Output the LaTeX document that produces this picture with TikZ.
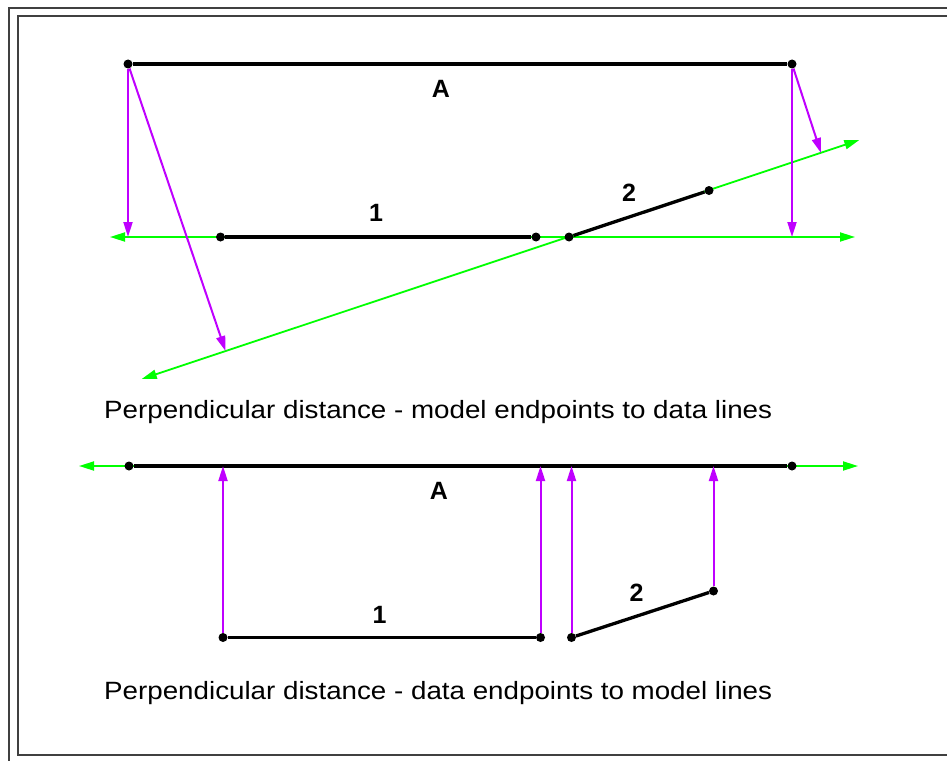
\documentclass[tikz,border=0pt]{standalone}
\usepackage{fontspec}
\setmainfont{Liberation Sans}
\usetikzlibrary{arrows.meta}
\definecolor{mag}{RGB}{191,0,255}
\definecolor{grn}{RGB}{0,255,0}
\definecolor{framegray}{RGB}{64,64,64}
\begin{document}
\begin{tikzpicture}[x=1pt,y=-1pt,
  dot/.style={circle,fill=black,inner sep=0pt,minimum size=9pt},
  seg/.style={line width=3.3pt,black},
  guide/.style={grn,line width=1.8pt,{Triangle[length=15pt,width=9pt]}-{Triangle[length=15pt,width=9pt]}},
  perp/.style={mag,line width=2pt,-{Triangle[length=15pt,width=9pt]}},
  lbl/.style={font=\fontsize{25}{30}\selectfont\bfseries,inner sep=0pt},
  captxt/.style={font=\fontsize{25}{30}\selectfont,anchor=base west,inner sep=0pt},
  framel/.style={framegray,line width=1.6pt}]
\useasboundingbox (0,0) rectangle (947,760);
\clip (0,0) rectangle (947,760);
% frame
\draw[framel] (9,8) rectangle (970,780);
\draw[framel] (18,16) rectangle (965,755);

% ---------- top diagram ----------
\coordinate (gh1) at (110,237);
\coordinate (gh2) at (855,237);
\coordinate (gs1) at (141.7,379);
\coordinate (gs2) at (859.3,140);
\draw[guide] (gh1) -- (gh2);
\draw[guide] (gs1) -- (gs2);

\node[dot] (tA1) at (128,64) {};
\node[dot] (tA2) at (792,64) {};
\node[dot] (t11) at (220.5,237) {};
\node[dot] (t12) at (536,237) {};
\node[dot] (t21) at (569,237) {};
\node[dot] (t22) at (709,190.5) {};
\draw[seg] (tA1) -- (tA2);
\draw[seg] (t11) -- (t12);
\draw[seg] (t21) -- (t22);

\coordinate (fl1) at (128,237);
\coordinate (fl2) at (225.5,351);
\coordinate (fr1) at (792,237);
\coordinate (fr2) at (821,153);
\draw[perp] (tA1) -- (fl1);
\draw[perp] (tA1) -- (fl2);
\draw[perp] (tA2) -- (fr1);
\draw[perp] (tA2) -- (fr2);

\node[lbl] (tlA) at (441,89) {A};
\node[lbl] (tl1) at (376,213) {1};
\node[lbl] (tl2) at (629,193) {2};

\node[captxt] (cap1) at (104,418) {\scalebox{1.11}[1]{Perpendicular distance - model endpoints to data lines}};

% ---------- bottom diagram ----------
\coordinate (bg1) at (79,466);
\coordinate (bg2) at (858,466);
\draw[guide] (bg1) -- (bg2);

\node[dot] (bA1) at (129,466) {};
\node[dot] (bA2) at (792,466) {};
\node[dot] (b11) at (223,637.5) {};
\node[dot] (b12) at (540.5,637.5) {};
\node[dot] (b21) at (571.5,637.5) {};
\node[dot] (b22) at (713.5,591) {};
\draw[seg] (bA1) -- (bA2);
\draw[seg] (b11) -- (b12);
\draw[seg] (b21) -- (b22);

\coordinate (u1) at (223,466);
\coordinate (u2) at (540.5,466);
\coordinate (u3) at (571.5,466);
\coordinate (u4) at (713.5,466);
\draw[perp] (b11) -- (u1);
\draw[perp] (b12) -- (u2);
\draw[perp] (b21) -- (u3);
\draw[perp] (b22) -- (u4);

\node[lbl] (blA) at (439,491) {A};
\node[lbl] (bl1) at (379.5,614.5) {1};
\node[lbl] (bl2) at (636.5,592.5) {2};

\node[captxt] (cap2) at (104,699) {\scalebox{1.11}[1]{Perpendicular distance - data endpoints to model lines}};
\end{tikzpicture}
\end{document}
